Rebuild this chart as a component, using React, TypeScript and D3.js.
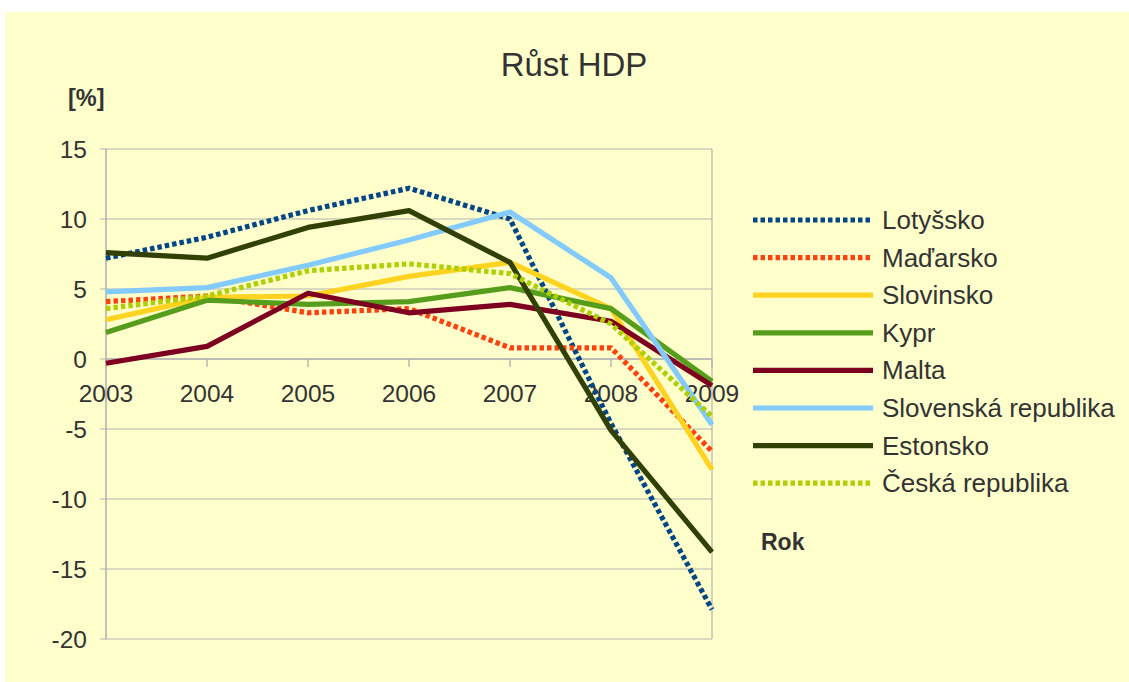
import React from "react";
import * as d3 from "d3";

const years = ["2003", "2004", "2005", "2006", "2007", "2008", "2009"];
const yTicks = [15, 10, 5, 0, -5, -10, -15, -20];

const lotyssko = [7.2, 8.7, 10.6, 12.2, 10.0, -4.6, -17.9];
const madarsko = [4.1, 4.5, 3.3, 3.6, 0.8, 0.8, -6.6];
const slovinsko = [2.8, 4.4, 4.5, 5.9, 6.9, 3.6, -7.9];
const kypr = [1.9, 4.2, 3.9, 4.1, 5.1, 3.6, -1.6];
const malta = [-0.3, 0.9, 4.7, 3.3, 3.9, 2.7, -1.9];
const slovenska = [4.8, 5.1, 6.7, 8.5, 10.5, 5.8, -4.7];
const estonsko = [7.6, 7.2, 9.4, 10.6, 6.9, -5.1, -13.8];
const ceska = [3.6, 4.5, 6.3, 6.8, 6.1, 2.5, -4.1];

const seriesNames = ["Lotyšsko", "Maďarsko", "Slovinsko", "Kypr", "Malta", "Slovenská republika", "Estonsko", "Česká republika"];
const seriesValues = [lotyssko, madarsko, slovinsko, kypr, malta, slovenska, estonsko, ceska];
const seriesColors = ["#004586", "#ff420e", "#ffd320", "#579d1c", "#7e0021", "#83caff", "#314004", "#aecf00"];
const seriesDotted = [true, true, false, false, false, false, false, true];

const W = 1129;
const H = 682;
const FONT = "'Liberation Sans', Arial, sans-serif";
const TXT = "#333333";

export default function App() {
  const x = d3.scalePoint<string>().domain(years).range([106, 712]);
  const y = d3.scaleLinear().domain([-20, 15]).range([639, 149]);
  const line = d3
    .line<number>()
    .x((_, i) => x(years[i]) as number)
    .y((d) => y(d));

  const legendX1 = 753;
  const legendX2 = 873;
  const legendY0 = 220;
  const legendStep = 37.6;

  return (
    <div style={{ position: "absolute", left: 0, top: 0 }}>
      <svg width={W} height={H} style={{ display: "block" }}>
        <rect x={0} y={0} width={W} height={H} fill="#ffffff" />
        <rect x={5} y={12} width={W - 5} height={H - 12} fill="#ffffcc" />
        <text x={574} y={76} textAnchor="middle" fontFamily={FONT} fontSize={33} fill={TXT}>
          Růst HDP
        </text>
        <text x={68} y={106} fontFamily={FONT} fontSize={23.5} fontWeight="bold" fill={TXT}>
          [%]
        </text>
        <text x={761} y={550} fontFamily={FONT} fontSize={23} fontWeight="bold" fill={TXT}>
          Rok
        </text>
        {yTicks.map((t) => (
          <g key={t}>
            <line x1={100} x2={712} y1={y(t)} y2={y(t)} stroke="#b3b3b3" strokeWidth={1.2} />
            <text
              x={87}
              y={y(t) + 8.5}
              textAnchor="end"
              fontFamily={FONT}
              fontSize={24.5}
              fill={TXT}
            >
              {t}
            </text>
          </g>
        ))}
        <line x1={712} x2={712} y1={y(15)} y2={y(-20)} stroke="#b3b3b3" strokeWidth={1.2} />
        <line x1={106} x2={106} y1={y(15)} y2={y(-20)} stroke="#b3b3b3" strokeWidth={1.6} />
        <line x1={106} x2={712} y1={y(0)} y2={y(0)} stroke="#b3b3b3" strokeWidth={1.6} />
        {years.map((yr) => (
          <g key={yr}>
            <line x1={x(yr)} x2={x(yr)} y1={y(0)} y2={y(0) + 8} stroke="#b3b3b3" strokeWidth={1.4} />
            <text x={x(yr)} y={402} textAnchor="middle" fontFamily={FONT} fontSize={24.5} fill={TXT}>
              {yr}
            </text>
          </g>
        ))}
        {seriesValues.map((vals, i) => (
          <path
            key={seriesNames[i]}
            d={line(vals) || ""}
            fill="none"
            stroke={seriesColors[i]}
            strokeWidth={5.2}
            strokeDasharray={seriesDotted[i] ? "4.5,3" : undefined}
            strokeLinejoin="round"
            strokeLinecap="butt"
          />
        ))}
        {seriesNames.map((name, i) => {
          const ly = legendY0 + i * legendStep;
          return (
            <g key={name}>
              <line
                x1={legendX1}
                x2={legendX2}
                y1={ly}
                y2={ly}
                stroke={seriesColors[i]}
                strokeWidth={5.2}
                strokeDasharray={seriesDotted[i] ? "4.5,3" : undefined}
              />
              <text x={882} y={ly + 9} fontFamily={FONT} fontSize={26} fill={TXT}>
                {name}
              </text>
            </g>
          );
        })}
      </svg>
    </div>
  );
}
